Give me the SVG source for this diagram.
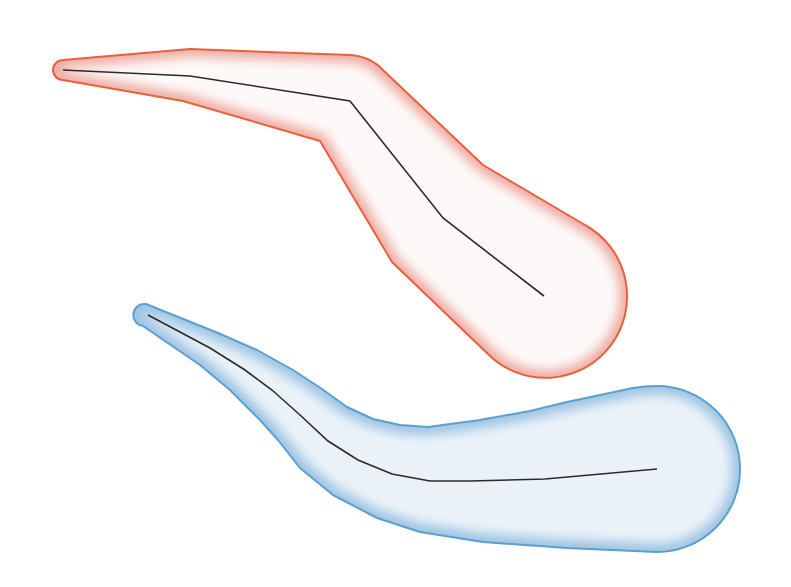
<svg xmlns="http://www.w3.org/2000/svg" xmlns:xlink="http://www.w3.org/1999/xlink" width="791" height="587" viewBox="0 0 791 587">
  <style>
    .line { fill: none; stroke: #2b2b2b; stroke-width: 1.6; stroke-linejoin: miter; }
    .red-edge { fill: none; stroke: #e8603c; stroke-width: 2; stroke-linejoin: round; }
    .blue-edge { fill: none; stroke: #5b9fd0; stroke-width: 2; stroke-linejoin: round; }
  </style>
  <defs>
    <path id="redShape" d="M 63,60 L 190,49 L 350,55 Q 370,56 384,71 L 483,165 L 585,225 A 81.5 81.5 0 1 1 488,354 L 392,262 L 320,141 L 183,101 L 63,80 A 10 10 0 0 1 63,60 Z"/>
    <path id="blueShape" d="M 146,304 L 218,333 L 257,350 L 293,370 L 322,389 L 347,407 L 373,419 L 400,425 L 428,427 L 480,420 L 530,411 L 567,402 L 633,388 Q 645,386 657,386 A 83 83 0 0 1 657,552 L 567,548 L 483,542 L 420,532 L 377,518 L 333,495 L 300,468 L 278,440 L 260,420 L 230,390 L 200,365 L 143,326 A 11 11 0 0 1 146,304 Z"/>
    <clipPath id="clipRed"><use xlink:href="#redShape"/></clipPath>
    <clipPath id="clipBlue"><use xlink:href="#blueShape"/></clipPath>
    <filter id="blur" x="-20%" y="-20%" width="140%" height="140%">
      <feGaussianBlur stdDeviation="6"/>
    </filter>
  </defs>
  <rect width="791" height="587" fill="#ffffff"/>
  <g id="red-buffer">
    <use xlink:href="#redShape" fill="#fdf9f8"/>
    <g clip-path="url(#clipRed)">
      <use xlink:href="#redShape" fill="none" stroke="#eda39a" stroke-width="14" filter="url(#blur)"/>
    </g>
    <use xlink:href="#redShape" class="red-edge"/>
  </g>
  <g id="blue-buffer">
    <use xlink:href="#blueShape" fill="#eaf2f8"/>
    <g clip-path="url(#clipBlue)">
      <use xlink:href="#blueShape" fill="none" stroke="#98c1e2" stroke-width="16" filter="url(#blur)"/>
    </g>
    <use xlink:href="#blueShape" class="blue-edge"/>
  </g>
  <g id="lines">
    <polyline class="line" points="63,70 190,76 350,101 443,218 544,296"/>
    <polyline class="line" points="148,315 210,348 245,370 272,390 300,415 328,441 358,460 392,474 430,481 470,481 545,479 657,469"/>
  </g>
</svg>
